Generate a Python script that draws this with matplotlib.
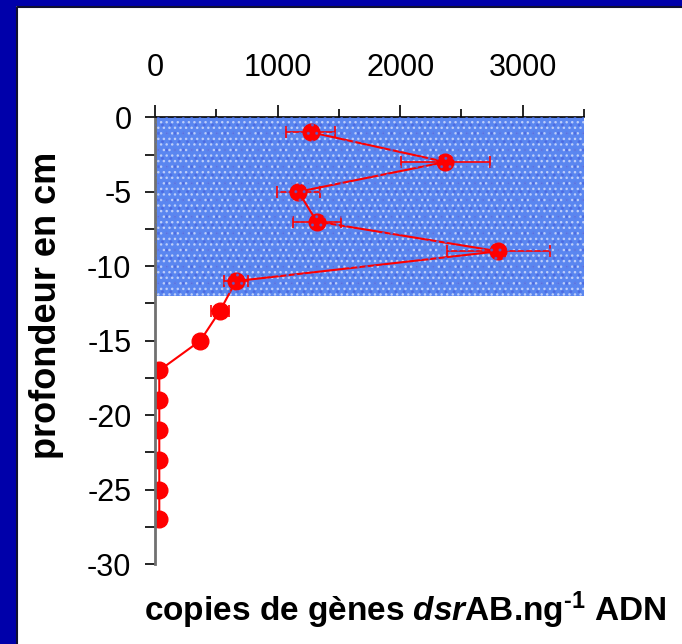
import matplotlib
matplotlib.use("Agg")
import matplotlib.pyplot as plt
from matplotlib.patches import Rectangle
from matplotlib.ticker import MultipleLocator

plt.rcParams['font.family'] = ['Liberation Sans', 'DejaVu Sans']
plt.rcParams['axes.unicode_minus'] = False
plt.rcParams['mathtext.fontset'] = 'custom'
plt.rcParams['mathtext.rm'] = 'Liberation Sans:bold'
plt.rcParams['mathtext.bf'] = 'Liberation Sans:bold'
plt.rcParams['mathtext.it'] = 'Liberation Sans:bold:italic'

# depth (cm) and dsrAB gene copies per ng DNA
depth = [-1, -3, -5, -7, -9, -11, -13, -15, -17, -19, -21, -23, -25, -27]
copies = [1270, 2370, 1170, 1320, 2800, 660, 530, 370, 35, 35, 35, 35, 35, 35]
copies_err = [200, 360, 175, 195, 420, 100, 75, 0, 0, 0, 0, 0, 0, 0]

# shaded layer (sediment zone)
zone_depth = [0, -12]
zone_x = [0, 3500]

fig = plt.figure(figsize=(6.82, 6.44), dpi=100, facecolor='white')
fig.patch.set_linewidth(0)
# slide frame: blue strips on the left and top
fig.patches.append(Rectangle((0, 0), 16 / 682, 1, transform=fig.transFigure,
                             facecolor='#0000aa', linewidth=0, zorder=-5))
fig.patches.append(Rectangle((0, 1 - 6 / 644), 1, 6 / 644, transform=fig.transFigure,
                             facecolor='#0000aa', linewidth=0, zorder=-5))
fig.lines.append(plt.Line2D([16.5 / 682, 16.5 / 682, 1], [0, 1 - 6.5 / 644, 1 - 6.5 / 644],
                            transform=fig.transFigure, color='#101030', linewidth=1.5))

ax = fig.add_axes([155 / 682, 1 - 564 / 644, 429 / 682, 446.7 / 644])
ax.set_facecolor('none')

zone_w = zone_x[1] - zone_x[0]
zone_h = zone_depth[0] - zone_depth[1]
ax.add_patch(Rectangle((zone_x[0], zone_depth[1]), zone_w, zone_h, facecolor='#5a86f0',
                       edgecolor='#bccdf9', hatch='...', linewidth=0, zorder=1))

ax.errorbar(copies, depth, xerr=copies_err, color='red', marker='o', markersize=12,
            linewidth=1.5, elinewidth=1.2, capsize=4, capthick=1.2, zorder=2)

# speckle over the markers inside the zone
ax.add_patch(Rectangle((zone_x[0], zone_depth[1]), zone_w, zone_h, facecolor='none',
                       edgecolor='#4a68e0', hatch='..', linewidth=0, alpha=0.7, zorder=3))

ax.set_xlim(0, 3500)
ax.set_ylim(-30, 0)
ax.xaxis.tick_top()
ax.xaxis.set_major_locator(MultipleLocator(1000))
ax.xaxis.set_minor_locator(MultipleLocator(500))
ax.yaxis.set_major_locator(MultipleLocator(5))
ax.yaxis.set_minor_locator(MultipleLocator(2.5))
ax.tick_params(axis='x', which='major', direction='out', length=9, width=1.2, labelsize=22, pad=16)
ax.tick_params(axis='x', which='minor', direction='out', length=6, width=1.2)
ax.tick_params(axis='y', which='both', direction='out', length=7, width=1.2, labelsize=22, pad=10)
ax.set_xticks([0, 1000, 2000, 3000])
ax.set_xticks([500, 1500, 2500, 3500], minor=True)

for s in ['right', 'bottom']:
    ax.spines[s].set_visible(False)
ax.spines['left'].set_color('#707070')
ax.spines['left'].set_linewidth(2)
ax.spines['top'].set_linewidth(1.2)

fig.text(47 / 682, 1 - 305 / 644, 'profondeur en cm', rotation=90, ha='center', va='center',
         fontsize=26, fontweight='bold')
fig.text(405 / 682, 1 - 610 / 644, r'copies de gènes $\it{dsr}$AB.ng$^{\text{-1}}$ ADN',
         ha='center', va='center', fontsize=24, fontweight='bold')

fig.savefig('out.png', dpi=100, facecolor=fig.get_facecolor())
